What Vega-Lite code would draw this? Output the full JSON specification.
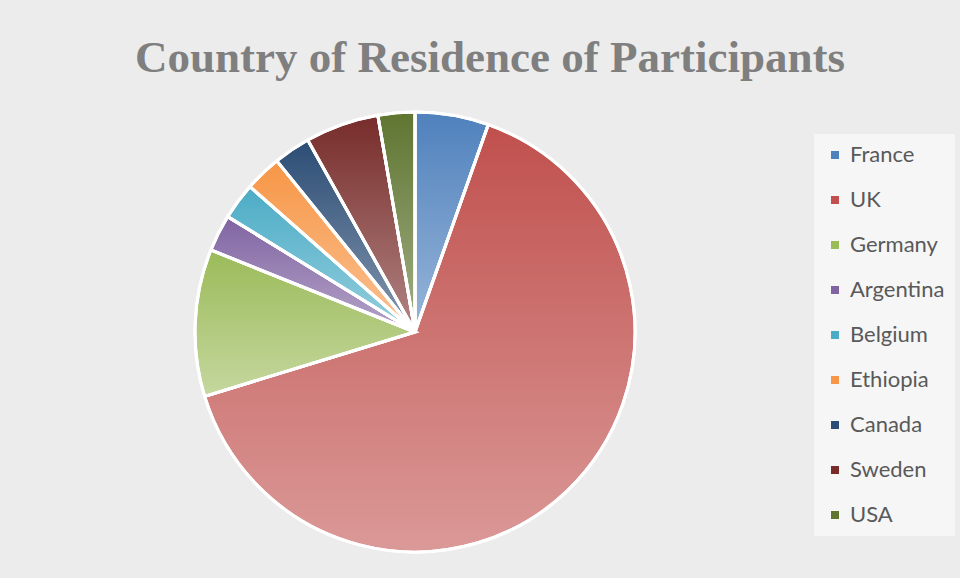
{
  "$schema": "https://vega.github.io/schema/vega-lite/v6.json",
  "width": 440,
  "height": 440,
  "autosize": {"type": "none"},
  "padding": {"left": 195, "top": 112, "right": 325, "bottom": 26},
  "background": "#ececec",
  "title": {
    "text": "Country of Residence of Participants",
    "font": "Liberation Serif",
    "fontSize": 45,
    "fontWeight": "bold",
    "color": "#7f7f7f",
    "anchor": "middle",
    "dx": 75,
    "offset": 25
  },
  "data": {
    "values": [
      {"country": "France", "count": 2, "rank": 1},
      {"country": "UK", "count": 24, "rank": 2},
      {"country": "Germany", "count": 4, "rank": 3},
      {"country": "Argentina", "count": 1, "rank": 4},
      {"country": "Belgium", "count": 1, "rank": 5},
      {"country": "Ethiopia", "count": 1, "rank": 6},
      {"country": "Canada", "count": 1, "rank": 7},
      {"country": "Sweden", "count": 2, "rank": 8},
      {"country": "USA", "count": 1, "rank": 9}
    ]
  },
  "encoding": {
    "theta": {"field": "count", "type": "quantitative", "stack": true},
    "order": {"field": "rank", "type": "quantitative"}
  },
  "layer": [
    {
      "mark": {"type": "arc", "stroke": "white", "strokeWidth": 3},
      "encoding": {
        "color": {
          "field": "country",
          "type": "nominal",
          "scale": {
            "domain": ["France", "UK", "Germany", "Argentina", "Belgium", "Ethiopia", "Canada", "Sweden", "USA"],
            "range": ["#4F81BD", "#C0504D", "#9BBB59", "#8064A2", "#4BACC6", "#F79646", "#2C4D75", "#772C2A", "#5F7530"]
          },
          "legend": {
            "orient": "none",
            "legendX": 619,
            "legendY": 22,
            "title": null,
            "symbolType": "square",
            "symbolSize": 64,
            "symbolStrokeWidth": 0,
            "labelFont": "Lato",
            "labelFontSize": 22,
            "labelColor": "#595959",
            "labelOffset": 4,
            "rowPadding": 23,
            "fillColor": "rgba(255,255,255,0.55)",
            "padding": 10
          }
        }
      }
    },
    {
      "mark": {
        "type": "arc",
        "stroke": "white",
        "strokeWidth": 3,
        "fill": {
          "gradient": "linear",
          "x1": 0, "y1": 0, "x2": 0, "y2": 1,
          "stops": [
            {"offset": 0, "color": "rgba(255,255,255,0)"},
            {"offset": 1, "color": "rgba(255,255,255,0.42)"}
          ]
        }
      }
    }
  ],
  "config": {"view": {"stroke": null}}
}
